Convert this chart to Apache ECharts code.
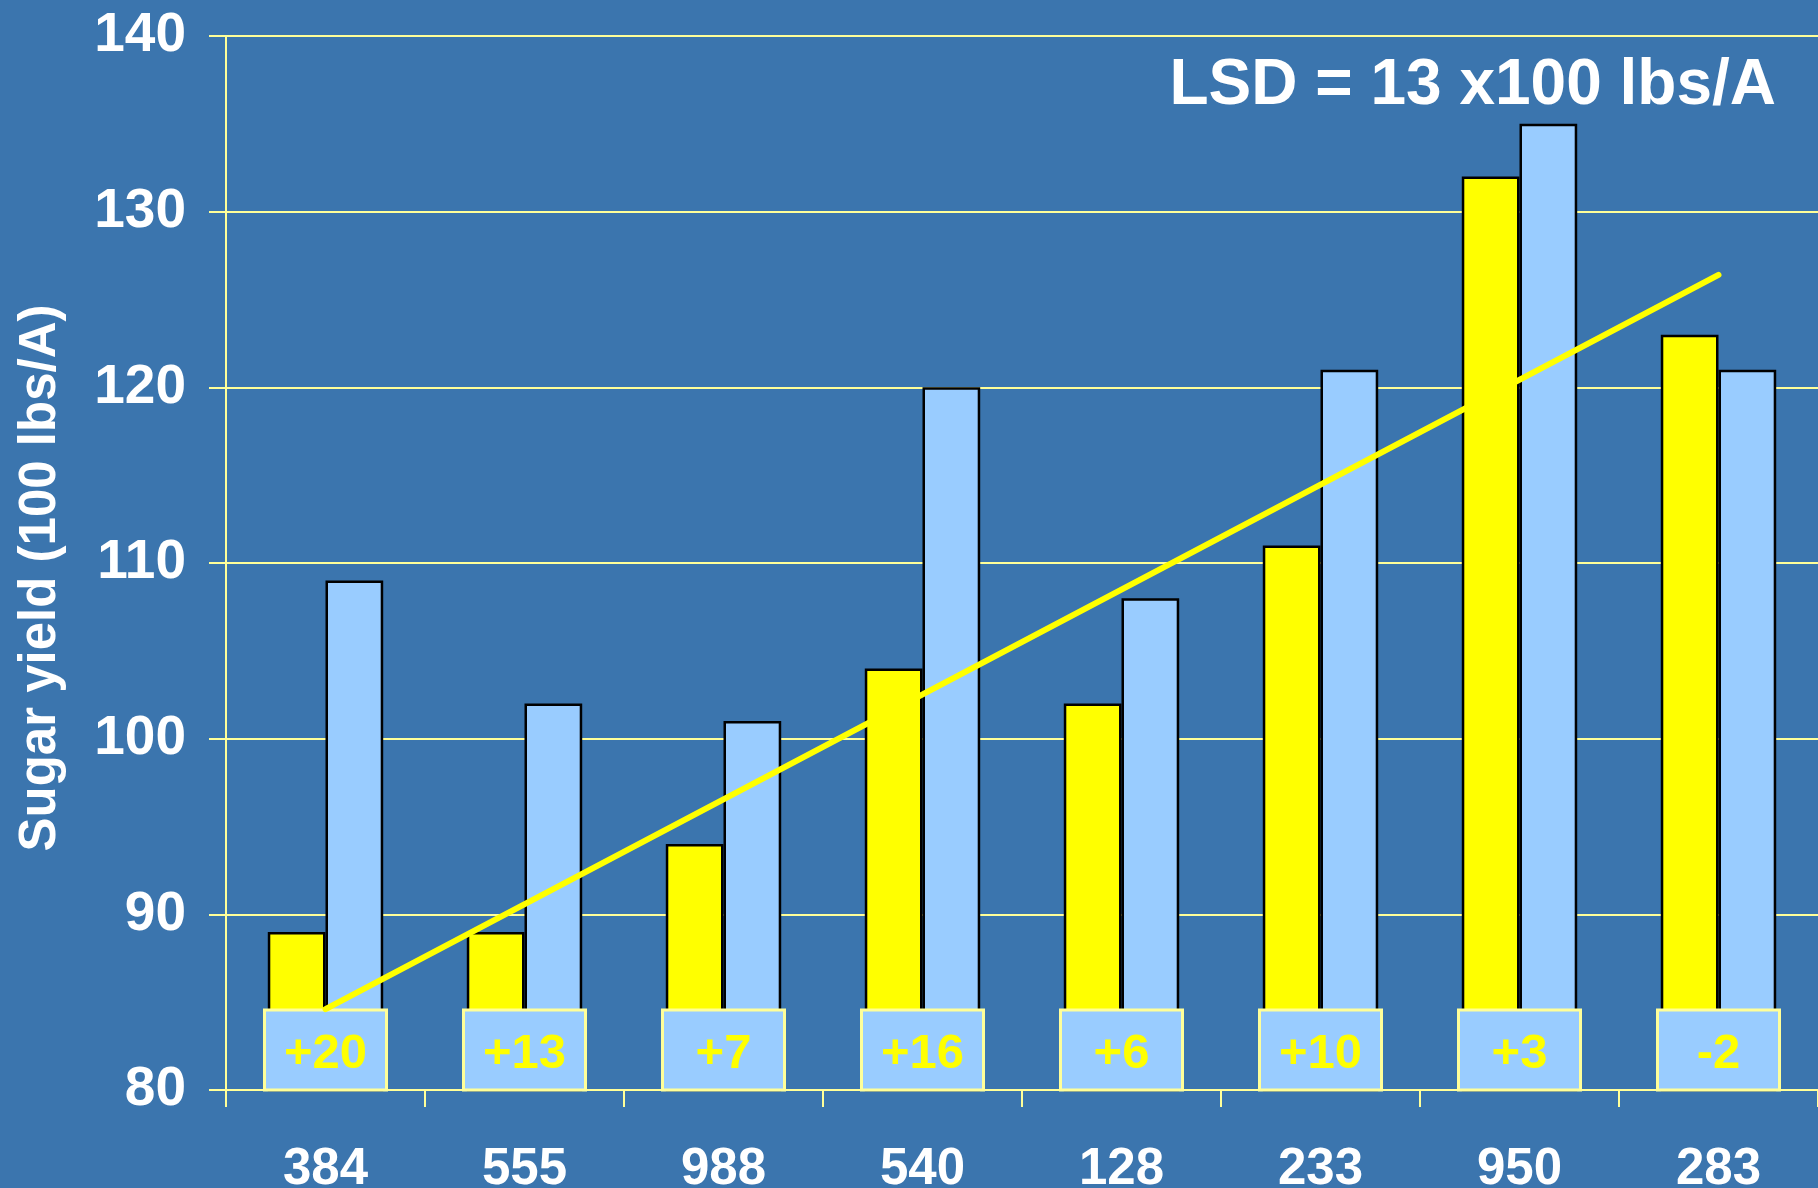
<!DOCTYPE html>
<html>
<head>
<meta charset="utf-8">
<title>Sugar yield</title>
<script src="https://cdn.jsdelivr.net/npm/echarts@6/dist/echarts.min.js"></script>
<style>
  html, body { margin: 0; padding: 0; background: #3B75AE; }
  #chart { width: 1818px; height: 1188px; }
</style>
</head>
<body>
<div id="chart"></div>
<script>
// Variety codes along the x axis
const varieties = ['384', '555', '988', '540', '128', '233', '950', '283'];
// Sugar yield (100 lbs/A) for the two treatments
const yieldYellow = [89, 89, 94, 104, 102, 111, 132, 123];
const yieldBlue = [109, 102, 101, 120, 108, 121, 135, 121];
// Trend line of the yellow series, at the first and last variety
const trendEnds = [84.6, 126.4];
// Y axis range and tick step
const yMin = 80, yMax = 140, yStep = 10;
const lsdText = 'LSD = 13 x100 lbs/A';
const yName = 'Sugar yield (100 lbs/A)';

const FONT = '"Liberation Sans", Arial, sans-serif';
const gridColor = '#FFFF99';

// Difference (blue - yellow) shown in each box under the bars
const diffs = yieldBlue.map((b, i) => b - yieldYellow[i]);
const diffData = diffs.map((d, i) => [i, d]);

const trendData = varieties.map((_, i) =>
  i === 0 ? trendEnds[0] : (i === varieties.length - 1 ? trendEnds[1] : null));

const chart = echarts.init(document.getElementById('chart'), null, { renderer: 'canvas' });

chart.setOption({
  backgroundColor: '#3B75AE',
  animation: false,
  textStyle: { fontFamily: FONT },
  grid: { left: 226, right: 0, top: 36, bottom: 98, containLabel: false, outerBoundsMode: 'none' },
  graphic: [{
    type: 'text',
    right: 42,
    top: 54,
    style: {
      text: lsdText,
      fill: '#FFFFFF',
      font: 'bold 64px ' + FONT
    }
  }],
  xAxis: {
    type: 'category',
    data: varieties,
    axisLine: { lineStyle: { color: gridColor, width: 2 } },
    axisTick: { show: true, length: 17, lineStyle: { color: gridColor, width: 2 } },
    axisLabel: { color: '#FFFFFF', fontSize: 51, fontWeight: 'bold', fontFamily: FONT, margin: 54 },
    splitLine: { show: false }
  },
  yAxis: {
    type: 'value',
    min: yMin,
    max: yMax,
    interval: yStep,
    name: yName,
    nameLocation: 'middle',
    nameRotate: 90,
    nameGap: 160,
    nameTextStyle: { color: '#FFFFFF', fontSize: 51, fontWeight: 'bold', fontFamily: FONT, padding: [0, 30, 0, 0] },
    axisLine: { show: true, lineStyle: { color: gridColor, width: 2 } },
    axisTick: { show: true, length: 17, lineStyle: { color: gridColor, width: 2 } },
    axisLabel: { color: '#FFFFFF', fontSize: 55, fontWeight: 'bold', fontFamily: FONT, margin: 40 },
    splitLine: { show: true, lineStyle: { color: gridColor, width: 2 } }
  },
  series: [
    {
      name: 'Yellow',
      type: 'bar',
      data: yieldYellow,
      barGap: '0%',
      barCategoryGap: '42%',
      itemStyle: { color: '#FFFF00', borderColor: '#000000', borderWidth: 2.5 },
      z: 2
    },
    {
      name: 'Blue',
      type: 'bar',
      data: yieldBlue,
      barGap: '0%',
      barCategoryGap: '42%',
      itemStyle: { color: '#99CCFF', borderColor: '#000000', borderWidth: 2.5 },
      z: 2
    },
    {
      name: 'Difference',
      type: 'custom',
      data: diffData,
      z: 3,
      renderItem: function (params, api) {
        const base = api.coord([api.value(0), yMin]);
        const w = 122, h = 80;
        const d = api.value(1);
        const txt = (d > 0 ? '+' : '') + d;
        return {
          type: 'group',
          children: [
            {
              type: 'rect',
              shape: { x: base[0] - w / 2, y: base[1] - h, width: w, height: h },
              style: { fill: '#99CCFF', stroke: '#FFFF99', lineWidth: 3 }
            },
            {
              type: 'text',
              x: base[0],
              y: base[1] - h / 2 + 4,
              style: {
                text: txt,
                align: 'center',
                verticalAlign: 'middle',
                fill: '#FFFF00',
                font: 'bold 49px ' + FONT
              }
            }
          ]
        };
      }
    },
    {
      name: 'Trend',
      type: 'line',
      data: trendData,
      connectNulls: true,
      symbol: 'none',
      lineStyle: { color: '#FFFF00', width: 6, cap: 'round' },
      z: 4
    }
  ]
});
</script>
</body>
</html>
